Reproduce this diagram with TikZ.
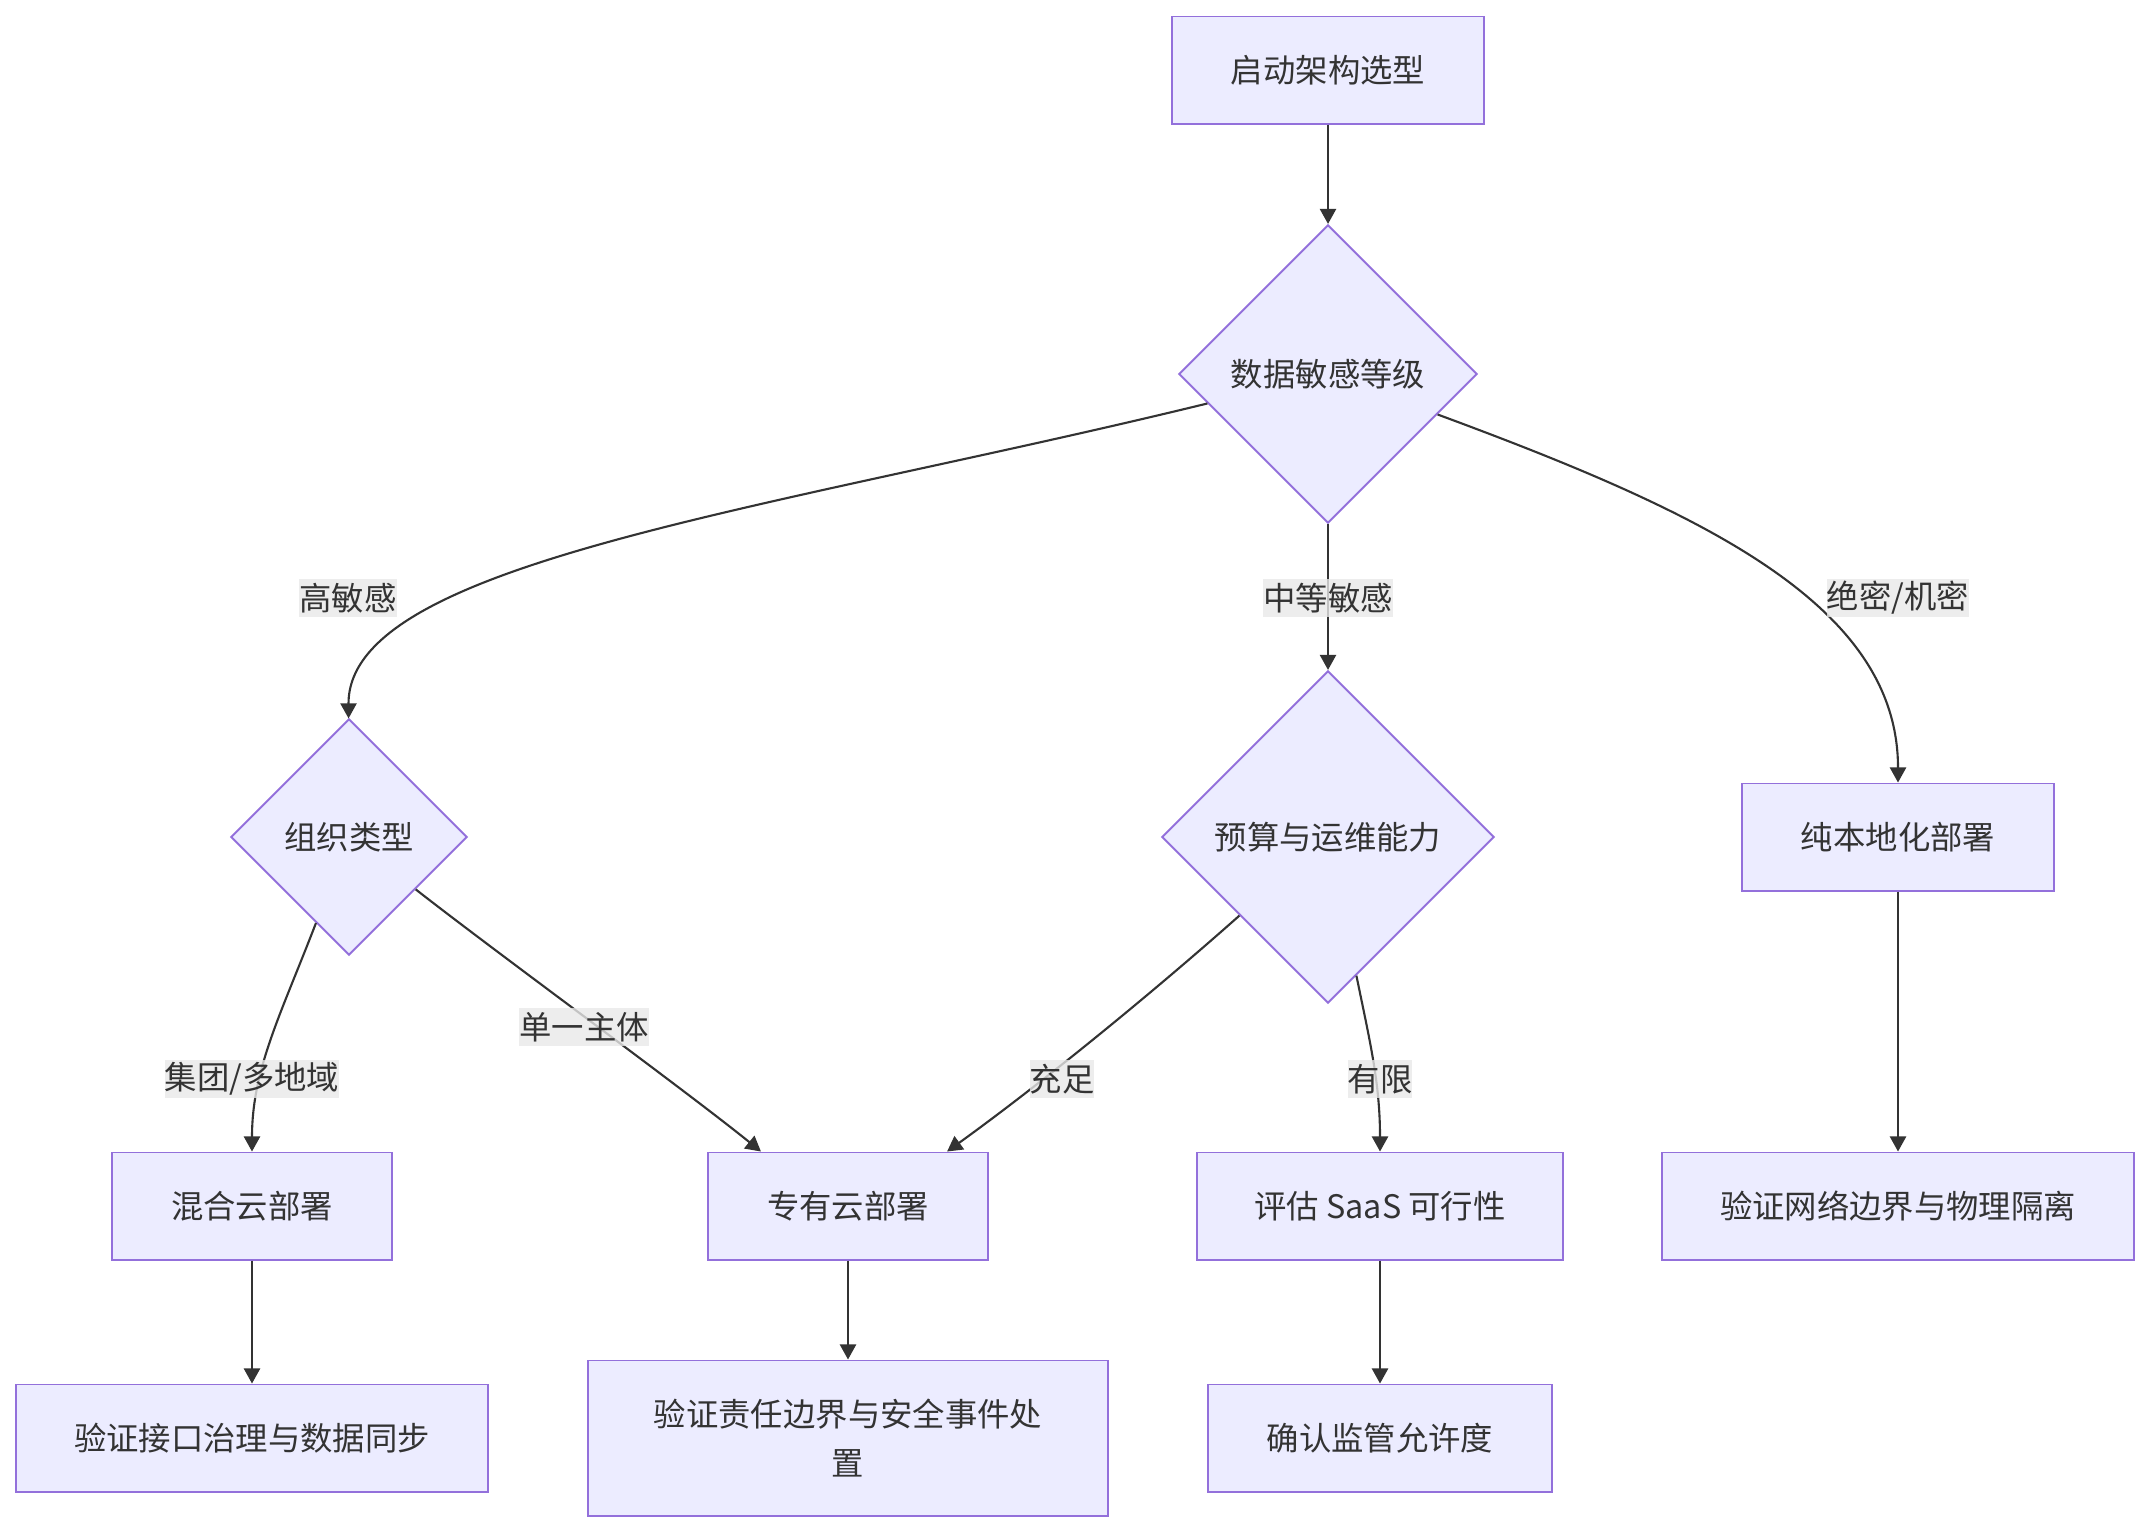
\documentclass[tikz,border=0pt]{standalone}
\usepackage{fontspec}
\setmainfont{Noto Sans CJK SC}
\usepackage{tikz}
\usetikzlibrary{arrows.meta,positioning,calc,shapes.geometric}
\definecolor{nodefill}{HTML}{ECECFF}
\definecolor{nodeline}{HTML}{9370DB}
\definecolor{edgeline}{HTML}{333333}
\definecolor{labelfill}{HTML}{E8E8E8}

\begin{document}
\begin{tikzpicture}[x=0.01cm, y=-0.01cm,
    every node/.style={font=\fontsize{9.2pt}{14pt}\selectfont, text=edgeline},
    procbox/.style={draw=nodeline, fill=nodefill, line width=0.55pt, minimum height=1.07cm, inner sep=0pt, align=center},
    choice/.style={draw=nodeline, fill=nodefill, line width=0.55pt, diamond, aspect=1, inner sep=0pt},
    flow/.style={draw=edgeline, line width=0.6pt, -{Triangle[length=4.3pt,width=4.6pt]}},
    edgelabel/.style={fill=labelfill, fill opacity=0.8, text opacity=1, inner xsep=0pt, inner ysep=0pt, minimum height=0.38cm}]
    \useasboundingbox (0,0) rectangle (2149,1532);
    % Decision nodes and steps (coordinates in pixels of the layout)
    \node[procbox, minimum width=3.12cm] (start) at (1328,70) {启动架构选型};
    \node[choice, minimum size=2.98cm] (level) at (1328,374) {数据敏感等级};
    \node[choice, minimum size=2.36cm] (orgtype) at (349,837) {组织类型};
    \node[choice, minimum size=3.32cm] (budget) at (1328,837) {预算与运维能力};
    \node[procbox, minimum width=3.12cm] (onprem) at (1898,837) {纯本地化部署};
    \node[procbox, minimum width=2.80cm] (hybrid) at (252,1206) {混合云部署};
    \node[procbox, minimum width=2.80cm] (pcloud) at (848,1206) {专有云部署};
    \node[procbox, minimum width=3.65cm] (saas) at (1380,1206) {评估 SaaS 可行性};
    \node[procbox, minimum width=4.71cm] (netcheck) at (1898,1206) {验证网络边界与物理隔离};
    \node[procbox, minimum width=4.71cm] (synccheck) at (252,1438) {验证接口治理与数据同步};
    \node[procbox, minimum width=5.19cm, minimum height=1.55cm] (dutycheck) at (848,1438) {验证责任边界与安全事件处\\置};
    \node[procbox, minimum width=3.44cm] (regcheck) at (1380,1438) {确认监管允许度};
    % Connectors
    \draw[flow] (start) -- (level);
    \draw[flow] (level) .. controls (767,511) and (348,562) .. (orgtype);
    \draw[flow] (level) -- (budget);
    \draw[flow] (level) .. controls (1699,511) and (1898,603) .. (onprem);
    \draw[flow] (orgtype) .. controls (281,1014) and (252,1069) .. (hybrid);
    \draw[flow] (orgtype) .. controls (493,950) and (685,1090) .. ([xshift=-0.87cm]pcloud.north);
    \draw[flow] (budget) .. controls (1151,994) and (1042,1083) .. ([xshift=0.99cm]pcloud.north);
    \draw[flow] (budget) .. controls (1370,1042) and (1380,1083) .. (saas);
    \draw[flow] (onprem) -- (netcheck);
    \draw[flow] (hybrid) -- (synccheck);
    \draw[flow] (pcloud) -- (dutycheck);
    \draw[flow] (saas) -- (regcheck);
    % Edge labels
    \node[edgelabel] (lblhigh) at (348,598) {高敏感};
    \node[edgelabel] (lblmid) at (1328,598) {中等敏感};
    \node[edgelabel] (lblsecret) at (1898,598) {绝密/机密};
    \node[edgelabel] (lblgroup) at (252,1079) {集团/多地域};
    \node[edgelabel] (lblsingle) at (584,1027) {单一主体};
    \node[edgelabel] (lblenough) at (1062,1079) {充足};
    \node[edgelabel] (lbllimited) at (1380,1079) {有限};
\end{tikzpicture}
\end{document}
